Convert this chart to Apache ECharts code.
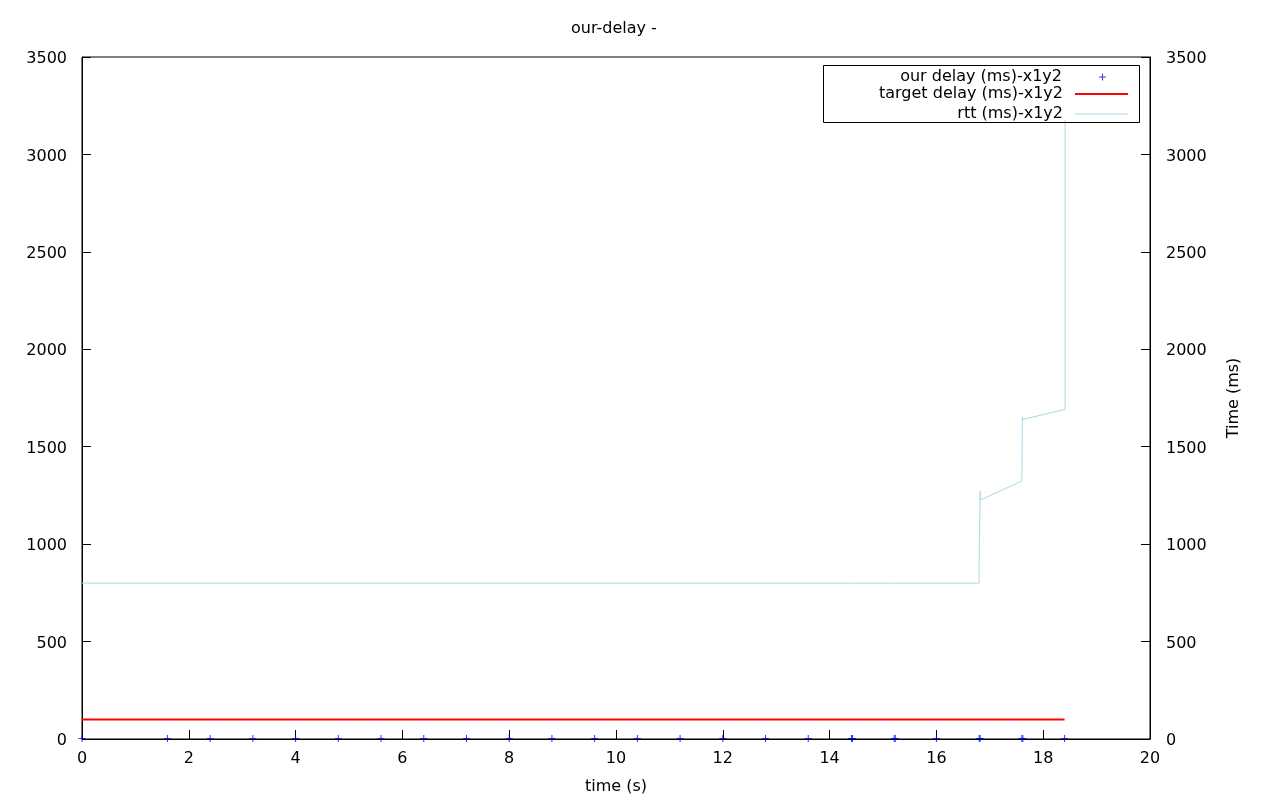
<!DOCTYPE html>
<html>
<head>
<meta charset="utf-8">
<script src="https://cdn.jsdelivr.net/npm/echarts@6/dist/echarts.min.js"></script>
<style>html,body{margin:0;padding:0;background:#fff}#c{width:1280px;height:800px}</style>
</head>
<body>
<div id="c"></div>
<script>
// ---- data ----
const titleText = 'our-delay -';
const xName = 'time (s)';
const y2Name = 'Time (ms)';
const seriesNames = ['our delay (ms)-x1y2', 'target delay (ms)-x1y2', 'rtt (ms)-x1y2'];
// our delay samples: [time s, delay ms]
const ourDelay = [
  [0, 2], [1.6, 2], [2.4, 2], [3.2, 2], [4.0, 2], [4.8, 2], [5.6, 2], [6.4, 2], [7.2, 2],
  [8.0, 2], [8.8, 2], [9.6, 2], [10.4, 2], [11.2, 2], [12.0, 2], [12.8, 2], [13.6, 2],
  [14.41, 2], [14.43, 2], [15.21, 2], [15.23, 2], [16.0, 2], [16.8, 2], [16.82, 2],
  [17.6, 2], [17.62, 2], [18.4, 2]
];
// target delay
const targetDelay = [[0, 100], [18.4, 100]];
// rtt
const rtt = [
  [0, 800], [14.41, 800], [14.42, 810], [14.43, 800], [15.21, 800], [15.22, 810], [15.23, 800],
  [16.8, 800], [16.8, 910], [16.82, 910], [16.82, 1273], [16.82, 1226], [17.6, 1324],
  [17.61, 1651], [17.62, 1640], [18.41, 1692], [18.41, 3176]
];
const xTicks = {min: 0, max: 20, interval: 2};
const yTicks = {min: 0, max: 3500, interval: 500};

const FONT = 'DejaVu Sans';
const plusPath = 'path://M3,0H4V3H7V4H4V7H3V4H0V3H3Z';

const chart = echarts.init(document.getElementById('c'), null, {renderer: 'canvas'});
const axisCommon = {
  axisLine: {show: true, onZero: false, lineStyle: {color: '#000', width: 1}},
  axisTick: {show: true, inside: true, length: 9, lineStyle: {color: '#000'}},
  splitLine: {show: false},
  axisLabel: {color: '#000', fontSize: 16, fontFamily: FONT}
};
const yLabel = {
  color: '#000', fontSize: 16, fontFamily: FONT,
  formatter: v => '{a|' + v + '}',
  rich: {a: {color: '#000', fontSize: 16, fontFamily: FONT, padding: [4, 0, 0, 0]}}
};
function legendFor(name, opts) {
  return Object.assign({
    orient: 'vertical', align: 'right', padding: 0, selectedMode: false,
    itemGap: 0,
    textStyle: {color: '#000', fontSize: 16, fontFamily: FONT, padding: [0, 7, 0, 0]},
    data: [name]
  }, opts);
}
chart.setOption({
  animation: false,
  backgroundColor: '#fff',
  textStyle: {fontFamily: FONT},
  title: {
    text: titleText, left: 571, top: 21, padding: 0,
    textStyle: {color: '#000', fontSize: 16, fontWeight: 'normal', fontFamily: FONT}
  },
  grid: {left: 82, right: 130, top: 57, bottom: 61, show: true, borderColor: '#000', borderWidth: 1, containLabel: false},
  legend: [
    legendFor(seriesNames[0], {right: 174, top: 69, itemWidth: 7, itemHeight: 7, icon: plusPath,
      textStyle: {color: '#000', fontSize: 16, fontFamily: FONT, padding: [2, 32, 0, 0]}}),
    legendFor(seriesNames[1], {right: 152, top: 86, itemWidth: 53, itemHeight: 2, icon: 'rect',
      textStyle: {color: '#000', fontSize: 16, fontFamily: FONT, padding: [2, 7, 0, 0]}}),
    legendFor(seriesNames[2], {right: 152, top: 106, itemWidth: 53, itemHeight: 1, icon: 'rect',
      textStyle: {color: '#000', fontSize: 16, fontFamily: FONT, padding: [2, 7, 0, 0]}})
  ],
  graphic: [{
    type: 'rect', z: 100, silent: true,
    shape: {x: 823.5, y: 65.5, width: 316, height: 57},
    style: {fill: null, stroke: '#000', lineWidth: 1}
  }],
  xAxis: Object.assign({}, axisCommon, {
    type: 'value', min: xTicks.min, max: xTicks.max, interval: xTicks.interval,
    name: xName, nameLocation: 'middle', nameGap: 40,
    nameTextStyle: {color: '#000', fontSize: 16, fontFamily: FONT},
    axisLabel: Object.assign({}, axisCommon.axisLabel, {margin: 10, padding: [2, 0, 0, 0], formatter: v => String(v)})
  }),
  yAxis: [
    Object.assign({}, axisCommon, {
      type: 'value', position: 'left', min: yTicks.min, max: yTicks.max, interval: yTicks.interval,
      axisLabel: Object.assign({}, yLabel, {margin: 15})
    }),
    Object.assign({}, axisCommon, {
      type: 'value', position: 'right', min: yTicks.min, max: yTicks.max, interval: yTicks.interval,
      name: y2Name, nameLocation: 'middle', nameGap: 76, nameRotate: 90,
      nameTextStyle: {color: '#000', fontSize: 16, fontFamily: FONT},
      axisLabel: Object.assign({}, yLabel, {margin: 16})
    })
  ],
  series: [
    {
      name: seriesNames[2], type: 'line', yAxisIndex: 1, data: rtt, symbol: 'none',
      color: '#add8e6', lineStyle: {color: '#add8e6', width: 1}, z: 2
    },
    {
      name: seriesNames[1], type: 'line', yAxisIndex: 1, data: targetDelay, symbol: 'none',
      color: '#ff0000', lineStyle: {color: '#ff0000', width: 2}, z: 3
    },
    {
      name: seriesNames[0], type: 'scatter', yAxisIndex: 1, data: ourDelay,
      symbol: plusPath, symbolSize: 7, color: '#0000ff', itemStyle: {color: '#0000ff'}, z: 4
    }
  ]
});
</script>
</body>
</html>
